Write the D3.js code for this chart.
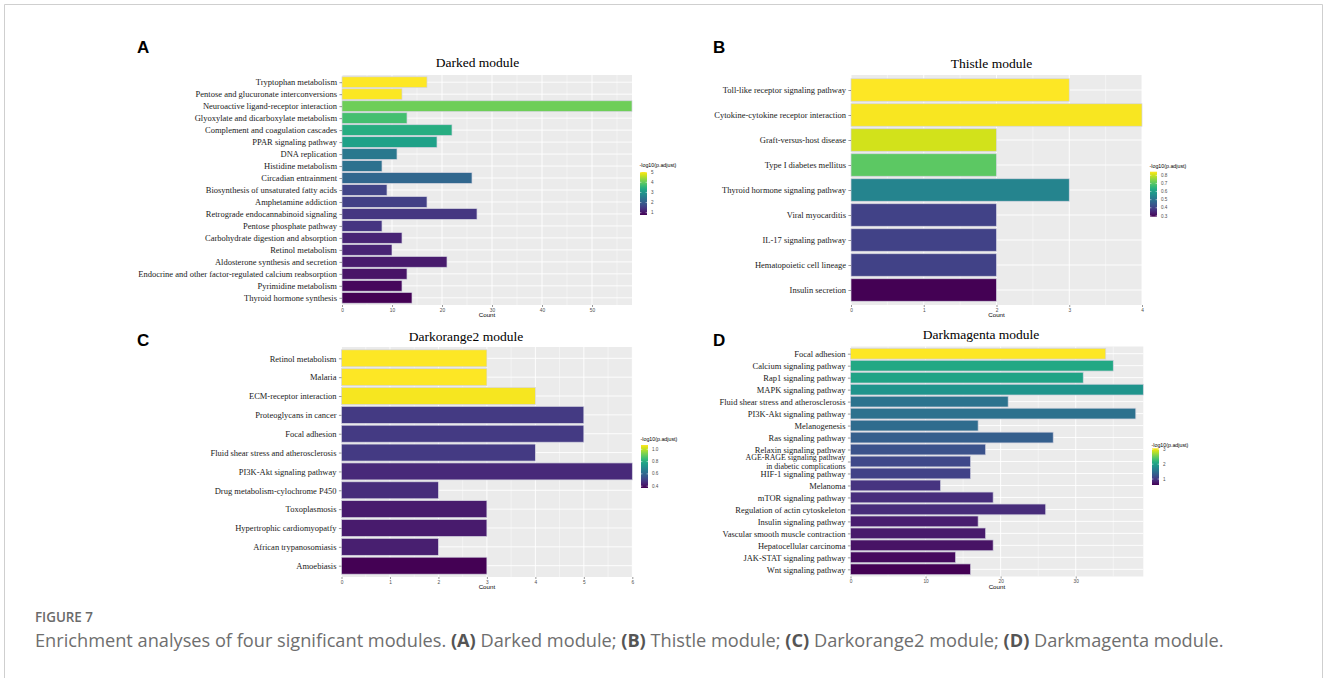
<!DOCTYPE html>
<html>
<head>
<meta charset="utf-8">
<script src="https://cdn.jsdelivr.net/npm/d3@7"></script>
<style>
  html, body { margin: 0; padding: 0; background: #fff; }
  svg { display: block; }
</style>
</head>
<body>
<script>
// ---------------- Data: KEGG enrichment of four WGCNA modules ----------------

// A — Darked module
const termsA = [
  "Tryptophan metabolism",
  "Pentose and glucuronate interconversions",
  "Neuroactive ligand-receptor interaction",
  "Glyoxylate and dicarboxylate metabolism",
  "Complement and coagulation cascades",
  "PPAR signaling pathway",
  "DNA replication",
  "Histidine metabolism",
  "Circadian entrainment",
  "Biosynthesis of unsaturated fatty acids",
  "Amphetamine addiction",
  "Retrograde endocannabinoid signaling",
  "Pentose phosphate pathway",
  "Carbohydrate digestion and absorption",
  "Retinol metabolism",
  "Aldosterone synthesis and secretion",
  "Endocrine and other factor-regulated calcium reabsorption",
  "Pyrimidine metabolism",
  "Thyroid hormone synthesis"
];
const countsA = [17, 12, 58, 13, 22, 19, 11, 8, 26, 9, 17, 27, 8, 12, 10, 21, 13, 12, 14];
const logPadjA = [5.02, 5.0, 4.09, 3.75, 3.41, 3.19, 2.47, 2.34, 2.17, 1.62, 1.58, 1.45, 1.43, 1.2, 1.17, 1.07, 1.0, 0.86, 0.77];
const countTicksA = [0, 10, 20, 30, 40, 50];
const legendTicksA = [1, 2, 3, 4, 5];

// B — Thistle module
const termsB = [
  "Toll-like receptor signaling pathway",
  "Cytokine-cytokine receptor interaction",
  "Graft-versus-host disease",
  "Type I diabetes mellitus",
  "Thyroid hormone signaling pathway",
  "Viral myocarditis",
  "IL-17 signaling pathway",
  "Hematopoietic cell lineage",
  "Insulin secretion"
];
const countsB = [3, 4, 2, 2, 3, 2, 2, 2, 2];
const logPadjB = [0.845, 0.84, 0.806, 0.706, 0.54, 0.40, 0.40, 0.40, 0.29];
const countTicksB = [0, 1, 2, 3, 4];
const legendTicksB = [0.3, 0.4, 0.5, 0.6, 0.7, 0.8];

// C — Darkorange2 module
const termsC = [
  "Retinol metabolism",
  "Malaria",
  "ECM-receptor interaction",
  "Proteoglycans in cancer",
  "Focal adhesion",
  "Fluid shear stress and atherosclerosis",
  "PI3K-Akt signaling pathway",
  "Drug metabolism-cylochrome P450",
  "Toxoplasmosis",
  "Hypertrophic cardiomyopatfy",
  "African trypanosomiasis",
  "Amoebiasis"
];
const countsC = [3, 3, 4, 5, 5, 4, 6, 2, 3, 3, 2, 3];
const logPadjC = [1.07, 1.07, 1.06, 0.49, 0.49, 0.49, 0.45, 0.46, 0.42, 0.42, 0.43, 0.37];
const countTicksC = [0, 1, 2, 3, 4, 5, 6];
const legendTicksC = [0.4, 0.6, 0.8, 1.0];

// D — Darkmagenta module
const termsD = [
  "Focal adhesion",
  "Calcium signaling pathway",
  "Rap1 signaling pathway",
  "MAPK signaling pathway",
  "Fluid shear stress and atherosclerosis",
  "PI3K-Akt signaling pathway",
  "Melanogenesis",
  "Ras signaling pathway",
  "Relaxin signaling pathway",
  "AGE-RAGE signaling pathway\nin diabetic complications",
  "HIF-1 signaling pathway",
  "Melanoma",
  "mTOR signaling pathway",
  "Regulation of actin cytoskeleton",
  "Insulin signaling pathway",
  "Vascular smooth muscle contraction",
  "Hepatocellular carcinoma",
  "JAK-STAT signaling pathway",
  "Wnt signaling pathway"
];
const countsD = [34, 35, 31, 39, 21, 38, 17, 27, 18, 16, 16, 12, 19, 26, 17, 18, 19, 14, 16];
const logPadjD = [3.07, 2.08, 2.03, 1.88, 1.54, 1.51, 1.46, 1.34, 1.22, 1.14, 1.09, 0.97, 0.92, 0.90, 0.80, 0.77, 0.72, 0.67, 0.60];
const countTicksD = [0, 10, 20, 30];
const legendTicksD = [1, 2, 3];

// ---------------- Drawing ----------------
const W = 1328, H = 678;
const svg = d3.select("body").append("svg").attr("width", W).attr("height", H);

// figure frame
svg.append("path")
  .attr("d", `M4.5,${H} V4.5 H1322.5 V${H}`)
  .attr("fill", "none").attr("stroke", "#cfcfcf").attr("stroke-width", 1);

const SERIF = "'Liberation Serif', 'Times New Roman', serif";
const SANS = "'Liberation Sans', Arial, sans-serif";

const panels = [
  { letter: "A", title: "Darked module", terms: termsA, counts: countsA, padj: logPadjA,
    ticks: countTicksA, legTicks: legendTicksA, legFmt: d3.format("d"),
    lx: 137, ly: 52.5, px: [342, 632], py: [75, 305], tx: 477.5, ty: 67,
    leg: { x: 640, y0: 172, y1: 215, ty: 167 } },
  { letter: "B", title: "Thistle module", terms: termsB, counts: countsB, padj: logPadjB,
    ticks: countTicksB, legTicks: legendTicksB, legFmt: d3.format(".1f"),
    lx: 713, ly: 52.5, px: [851, 1142], py: [75, 305], tx: 991.5, ty: 68,
    leg: { x: 1150, y0: 171.7, y1: 216.7, ty: 168 } },
  { letter: "C", title: "Darkorange2 module", terms: termsC, counts: countsC, padj: logPadjC,
    ticks: countTicksC, legTicks: legendTicksC, legFmt: d3.format(".1f"),
    lx: 137, ly: 346, px: [341.5, 632.3], py: [347, 577], tx: 466, ty: 341,
    leg: { x: 641, y0: 445, y1: 488, ty: 441 } },
  { letter: "D", title: "Darkmagenta module", terms: termsD, counts: countsD, padj: logPadjD,
    ticks: countTicksD, legTicks: legendTicksD, legFmt: d3.format("d"),
    lx: 713, ly: 346, px: [850.5, 1143.3], py: [346.5, 576.5], tx: 981, ty: 338.5,
    leg: { x: 1152, y0: 448.3, y1: 485, ty: 447 } }
];

panels.forEach(drawPanel);

function drawPanel(p, idx) {
  const g = svg.append("g").attr("class", "panel-" + p.letter);
  const xMax = d3.max(p.counts);
  const x = d3.scaleLinear().domain([0, xMax]).range(p.px);
  const y = d3.scalePoint().domain(p.terms).range(p.py).padding(0.6);
  const band = y.step() * 0.9;
  const color = d3.scaleSequential(d3.interpolateViridis).domain(d3.extent(p.padj));

  // panel letter
  g.append("text").attr("x", p.lx).attr("y", p.ly)
    .attr("font-family", SANS).attr("font-weight", "bold").attr("font-size", 17)
    .attr("fill", "#000").text(p.letter);

  // plot title
  g.append("text").attr("x", p.tx).attr("y", p.ty).attr("text-anchor", "middle")
    .attr("font-family", SERIF).attr("font-size", 13.5).attr("fill", "#000").text(p.title);

  // panel background
  g.append("rect").attr("x", p.px[0]).attr("y", p.py[0])
    .attr("width", p.px[1] - p.px[0]).attr("height", p.py[1] - p.py[0])
    .attr("fill", "#ebebeb");

  // minor vertical grid
  const step = p.ticks[1] - p.ticks[0];
  const minor = p.ticks.map(t => t + step / 2).filter(t => t <= xMax);
  g.append("g").selectAll("line").data(minor).join("line")
    .attr("x1", d => x(d)).attr("x2", d => x(d))
    .attr("y1", p.py[0]).attr("y2", p.py[1])
    .attr("stroke", "#fff").attr("stroke-width", 0.45);
  // major vertical grid
  g.append("g").selectAll("line").data(p.ticks).join("line")
    .attr("x1", d => x(d)).attr("x2", d => x(d))
    .attr("y1", p.py[0]).attr("y2", p.py[1])
    .attr("stroke", "#fff").attr("stroke-width", 0.9);
  // horizontal grid at each term
  g.append("g").selectAll("line").data(p.terms).join("line")
    .attr("x1", p.px[0]).attr("x2", p.px[1])
    .attr("y1", d => y(d)).attr("y2", d => y(d))
    .attr("stroke", "#fff").attr("stroke-width", 0.9);

  // bars
  const rows = p.terms.map((t, i) => ({ term: t, count: p.counts[i], v: p.padj[i] }));
  g.append("g").selectAll("rect").data(rows).join("rect")
    .attr("x", x(0)).attr("y", d => y(d.term) - band / 2)
    .attr("width", d => x(d.count) - x(0)).attr("height", band)
    .attr("fill", d => color(d.v))
    .attr("stroke", "#d4d4e0").attr("stroke-width", 0.7);

  // y axis (terms)
  const yAxis = g.append("g").attr("transform", `translate(${p.px[0]},0)`)
    .call(d3.axisLeft(y).tickSize(2.6).tickPadding(2.4));
  yAxis.select(".domain").remove();
  yAxis.selectAll(".tick line").attr("stroke", "#333").attr("stroke-width", 0.5);
  yAxis.selectAll(".tick text")
    .attr("font-family", SERIF).attr("font-size", 8.5).attr("fill", "#1a1a1a")
    .each(function (d) {
      const lines = d.split("\n");
      if (lines.length > 1) {
        // two-line term: slightly smaller, tighter leading so it fits its row
        const lh = 8.4;
        const t = d3.select(this).text(null).attr("font-size", 7.9);
        lines.forEach((ln, i) => {
          t.append("tspan").attr("x", -5)
            .attr("dy", i === 0 ? (-(lines.length - 1) * lh / 2 + 2.6) + "px" : lh + "px")
            .text(ln);
        });
        t.attr("dy", null);
      }
    });

  // x axis (Count)
  const xAxis = g.append("g").attr("transform", `translate(0,${p.py[1]})`)
    .call(d3.axisBottom(x).tickValues(p.ticks).tickFormat(d3.format("d")).tickSize(2).tickPadding(1.2));
  xAxis.select(".domain").remove();
  xAxis.selectAll(".tick line").attr("stroke", "#333").attr("stroke-width", 0.5);
  xAxis.selectAll(".tick text").attr("font-family", SANS).attr("font-size", 4.8).attr("fill", "#4d4d4d");

  g.append("text").attr("x", (p.px[0] + p.px[1]) / 2).attr("y", p.py[1] + 12.3)
    .attr("text-anchor", "middle").attr("font-family", SANS).attr("font-size", 6.2)
    .attr("fill", "#000").text("Count");

  // colour bar legend
  const L = p.leg, bw = 7;
  const gradId = "grad" + idx;
  const grad = svg.append("defs").append("linearGradient").attr("id", gradId)
    .attr("x1", 0).attr("x2", 0).attr("y1", 1).attr("y2", 0);
  d3.range(0, 1.0001, 0.05).forEach(t => {
    grad.append("stop").attr("offset", t).attr("stop-color", d3.interpolateViridis(t));
  });
  const ly = d3.scaleLinear().domain(d3.extent(p.padj)).range([L.y1, L.y0]);
  g.append("text").attr("x", L.x - 0.5).attr("y", L.ty)
    .attr("font-family", SANS).attr("font-size", 5.3).attr("fill", "#000")
    .text("-log10(p.adjust)");
  g.append("rect").attr("x", L.x).attr("y", L.y0).attr("width", bw).attr("height", L.y1 - L.y0)
    .attr("fill", `url(#${gradId})`);
  const lt = g.append("g").selectAll("g").data(p.legTicks).join("g")
    .attr("transform", d => `translate(0,${ly(d)})`);
  lt.append("line").attr("x1", L.x).attr("x2", L.x + 1.4).attr("stroke", "#fff").attr("stroke-width", 0.5);
  lt.append("line").attr("x1", L.x + bw - 1.4).attr("x2", L.x + bw).attr("stroke", "#fff").attr("stroke-width", 0.5);
  lt.append("text").attr("x", L.x + bw + 4).attr("dy", "0.35em")
    .attr("font-family", SANS).attr("font-size", 4.6).attr("fill", "#4d4d4d")
    .text(d => p.legFmt(d));
}

// ---------------- Figure caption ----------------
const capFont = "'Open Sans', 'Noto Sans', sans-serif";
const fig = svg.append("text").attr("x", 0).attr("y", 0)
  .attr("font-family", capFont).attr("font-size", 14.5).attr("font-weight", 600)
  .attr("fill", "#6a6a6a").text("FIGURE 7");
fitWidth(fig, 35, 621.5, 58);

const parts = [
  ["Enrichment analyses of four significant modules. ", false],
  ["(A)", true], [" Darked module; ", false],
  ["(B)", true], [" Thistle module; ", false],
  ["(C)", true], [" Darkorange2 module; ", false],
  ["(D)", true], [" Darkmagenta module.", false]
];
const cap = svg.append("text").attr("x", 0).attr("y", 0)
  .attr("font-family", capFont).attr("font-size", 17.5).attr("fill", "#666");
parts.forEach(([s, b]) => {
  cap.append("tspan").attr("font-weight", b ? 700 : 400).attr("fill", b ? "#555" : "#6e6e6e").text(s);
});
fitWidth(cap, 35, 647, 1189);

// condense a text line horizontally so it spans the given width
function fitWidth(sel, x0, y0, width) {
  const w = sel.node().getComputedTextLength();
  sel.attr("transform", `translate(${x0},${y0}) scale(${width / w},1)`);
}
</script>
</body>
</html>
